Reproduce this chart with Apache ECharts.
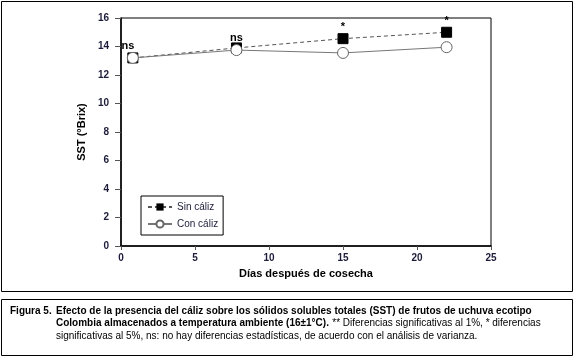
<!DOCTYPE html>
<html>
<head>
<meta charset="utf-8">
<script src="https://cdn.jsdelivr.net/npm/echarts@6/dist/echarts.min.js"></script>
<style>
  html, body { margin: 0; padding: 0; background: #fff; }
  #chart { width: 576px; height: 360px; }
</style>
</head>
<body>
<div id="chart"></div>
<script>
// días después de cosecha
const days = [0.8, 7.8, 15, 22];
const sinCaliz = [13.2, 13.9, 14.55, 15.0];
const conCaliz = [13.2, 13.75, 13.55, 13.95];
const sigLabels = ['ns', 'ns', '*', '*'];

const FONT = '"Liberation Sans Narrow", "Liberation Sans", Arial, sans-serif';
const TICK_COLOR = '#1c1c3a';

const chart = echarts.init(document.getElementById('chart'));

const option = {
    animation: false,
    backgroundColor: '#fff',
    textStyle: { fontFamily: FONT },
    grid: { left: 121, right: 85, top: 18, bottom: 114, show: true, borderColor: '#000', borderWidth: 1 },
    xAxis: {
        type: 'value',
        min: 0, max: 25, interval: 5,
        name: 'Días después de cosecha',
        nameLocation: 'middle',
        nameGap: 22,
        nameTextStyle: { fontFamily: FONT, fontWeight: 'bold', fontSize: 11, color: '#000' },
        axisLine: { lineStyle: { color: '#000', width: 1.5 } },
        axisTick: { show: true, length: 4, lineStyle: { color: '#555' } },
        axisLabel: { fontFamily: FONT, fontWeight: 'bold', fontSize: 10, color: TICK_COLOR, margin: 7 },
        splitLine: { show: false }
    },
    yAxis: {
        type: 'value',
        min: 0, max: 16, interval: 2,
        name: 'SST (°Brix)',
        nameLocation: 'middle',
        nameGap: 26,
        nameTextStyle: { fontFamily: FONT, fontWeight: 'bold', fontSize: 11, color: '#000' },
        axisLine: { show: true, lineStyle: { color: '#000', width: 1.5 } },
        axisTick: { show: true, length: 6, lineStyle: { color: '#555' } },
        axisLabel: { fontFamily: FONT, fontWeight: 'bold', fontSize: 10, color: TICK_COLOR, margin: 12 },
        splitLine: { show: false }
    },
    legend: {
        orient: 'vertical',
        left: 141, top: 196,
        padding: [6, 5, 6, 6],
        itemGap: 7,
        itemWidth: 24, itemHeight: 9,
        borderColor: '#000', borderWidth: 1,
        textStyle: { fontFamily: FONT, fontSize: 10, color: '#1c1c3a' },
        data: ['Sin cáliz', 'Con cáliz']
    },
    series: [
        {
            name: 'Sin cáliz',
            type: 'line',
            data: days.map((d, i) => [d, sinCaliz[i]]),
            symbol: 'rect',
            symbolSize: 10,
            itemStyle: { color: '#000', borderColor: '#000' },
            lineStyle: { color: '#555', width: 1, type: [4, 3] },
            label: {
                show: true,
                position: 'top',
                distance: 6,
                fontFamily: FONT, fontWeight: 'bold', fontSize: 11, color: '#000',
                formatter: p => sigLabels[p.dataIndex]
            },
            labelLayout: p => [{ dx: -5, dy: 5 }, { dy: 7 }, { dy: 5 }, { dy: 6 }][p.dataIndex],
            z: 2
        },
        {
            name: 'Con cáliz',
            type: 'line',
            data: days.map((d, i) => [d, conCaliz[i]]),
            symbol: 'circle',
            symbolSize: 11,
            itemStyle: { color: '#fff', borderColor: '#666', borderWidth: 1 },
            lineStyle: { color: '#777', width: 1 },
            z: 3
        }
    ],
    graphic: [
        { type: 'rect', shape: { x: 1.5, y: 1.5, width: 571, height: 290 }, style: { fill: null, stroke: '#000', lineWidth: 1 }, silent: true },
        { type: 'rect', shape: { x: 1.5, y: 299.5, width: 571, height: 56 }, style: { fill: null, stroke: '#000', lineWidth: 1 }, silent: true },
        {
            type: 'text', left: 10, top: 306,
            style: {
                text: 'Figura 5.',
                font: 'bold 10px ' + FONT, fill: '#000'
            }
        },
        {
            type: 'text', left: 56, top: 306,
            style: {
                text: '{b|Efecto de la presencia del cáliz sobre los sólidos solubles totales (SST) de frutos de uchuva ecotipo}\n' +
                      '{b|Colombia almacenados a temperatura ambiente (16±1°C).} {n|** Diferencias significativas al 1%, * diferencias}\n' +
                      '{n|significativas al 5%, ns: no hay diferencias estadísticas, de acuerdo con el análisis de varianza.}',
                fill: '#000',
                rich: {
                    b: { fontFamily: FONT, fontWeight: 'bold', fontSize: 10, lineHeight: 12.5, fill: '#000' },
                    n: { fontFamily: FONT, fontSize: 10, lineHeight: 12.5, fill: '#000' }
                }
            }
        }
    ]
};

chart.setOption(option);
</script>
</body>
</html>
